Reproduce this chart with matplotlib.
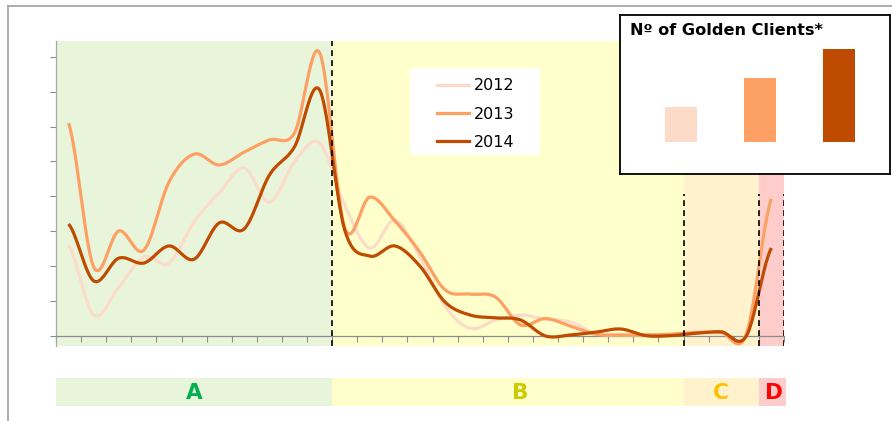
import matplotlib
matplotlib.use("Agg")
import matplotlib.pyplot as plt
import numpy as np
from matplotlib.lines import Line2D
from matplotlib.patches import Rectangle

# series, one value per category slot
years = ["2012", "2013", "2014"]
values_2012 = [2.61, 0.60, 1.40, 2.26, 2.09, 3.27, 4.10, 4.81, 3.84, 4.99, 5.53,
               3.75, 2.52, 3.32, 2.26, 0.85, 0.22, 0.45, 0.60, 0.48, 0.40, 0.07,
               0.03, 0.03, 0.05, 0.12, 0.10, 0.05, 3.85]
values_2013 = [6.10, 1.98, 3.01, 2.46, 4.41, 5.21, 4.90, 5.27, 5.62, 5.82, 8.12,
               3.10, 3.98, 3.30, 2.40, 1.32, 1.20, 1.12, 0.32, 0.50, 0.28, 0.05,
               0.03, 0.03, 0.05, 0.10, 0.10, 0.05, 3.93]
values_2014 = [3.21, 1.58, 2.23, 2.09, 2.58, 2.20, 3.24, 3.07, 4.61, 5.42, 7.05,
               3.04, 2.29, 2.58, 2.00, 0.97, 0.60, 0.52, 0.46, 0.00, 0.03, 0.11,
               0.20, 0.01, 0.01, 0.08, 0.12, 0.00, 2.52]

segment_labels = ["A", "B", "C", "D"]
segment_edges = [0, 11, 25, 28, 29]
golden_clients = [35, 64, 93]

line_colors = ["#FCDCC8", "#FDA064", "#BF4B00"]
segment_fill = ["#E9F5DB", "#FFFFCC", "#FFF2CC", "#FFCCCC"]
segment_text = ["#00B050", "#CCCC00", "#FFC000", "#FF0000"]

W, H = 892, 421


def fig_rect(x0, y0, x1, y1):
    # pixel box (top-left origin) -> figure fraction rect
    return [x0 / W, (H - y1) / H, (x1 - x0) / W, (y1 - y0) / H]


def smooth(y, n=24):
    # Catmull-Rom curve through the points, like a spreadsheet "smoothed line"
    y = np.asarray(y, dtype=float)
    x = np.arange(len(y)) + 0.5
    p = np.concatenate([[y[0]], y, [y[-1]]])
    xs, ys = [], []
    for i in range(len(y) - 1):
        m0 = (p[i + 2] - p[i]) / 2
        m1 = (p[i + 3] - p[i + 1]) / 2
        t = np.linspace(0, 1, n, endpoint=False)
        h00 = 2 * t**3 - 3 * t**2 + 1
        h10 = t**3 - 2 * t**2 + t
        h01 = -2 * t**3 + 3 * t**2
        h11 = t**3 - t**2
        ys.append(h00 * y[i] + h10 * m0 + h01 * y[i + 1] + h11 * m1)
        xs.append(x[i] + t)
    xs.append([x[-1]])
    ys.append([y[-1]])
    return np.concatenate(xs), np.concatenate(ys)


fig = plt.figure(figsize=(W / 100, H / 100), dpi=100)
fig.patch.set_facecolor("white")

# outer frame (top and left edges visible)
fig.add_artist(Line2D([8 / W, 1], [1 - 6 / H, 1 - 6 / H], color="#A6A6A6", lw=1.3))
fig.add_artist(Line2D([8 / W, 8 / W], [0, 1 - 6 / H], color="#A6A6A6", lw=1.3))

n_cat = len(values_2012)
ax = fig.add_axes(fig_rect(56, 41, 784, 346))
ax.set_xlim(0, n_cat)
ax.set_ylim(-0.287, 8.453)

for i, lab in enumerate(segment_labels):
    ax.axvspan(segment_edges[i], segment_edges[i + 1], color=segment_fill[i], lw=0, zorder=0)

for i, vals in enumerate([values_2012, values_2013, values_2014]):
    sx, sy = smooth(vals)
    ax.plot(sx, sy, color=line_colors[i], lw=2.3, solid_capstyle="butt", zorder=3)

# dashed separators
ax.axvline(segment_edges[1], ymin=0, ymax=1, color="black", lw=1.2, ls=(0, (3.5, 2.5)), zorder=4)
for e in segment_edges[2:]:
    ax.axvline(e, ymin=0, ymax=0.50, color="black", lw=1.2, ls=(0, (3.5, 2.5)), zorder=4)

for s in ["top", "right"]:
    ax.spines[s].set_visible(False)
ax.spines["left"].set_color("#A6A6A6")
ax.spines["bottom"].set_color("#8C8C8C")
ax.spines["bottom"].set_position(("data", 0))
ax.spines["left"].set_linewidth(0.9)
ax.spines["bottom"].set_linewidth(0.9)
ax.set_xticks(np.arange(0, n_cat + 1))
ax.set_yticks(np.arange(0, 9))
ax.tick_params(axis="x", direction="out", length=4, width=0.8, color="#8C8C8C", labelbottom=False)
ax.tick_params(axis="y", direction="out", length=4.5, width=0.8, color="#8C8C8C", labelleft=False)

# legend box
fig.add_artist(Rectangle((410 / W, (H - 155) / H), 130 / W, 87 / H,
                         transform=fig.transFigure, facecolor="white", edgecolor="none", zorder=5))
handles = [Line2D([], [], color=c, lw=2.3) for c in line_colors]
leg = fig.legend(handles, years, loc="upper left", bbox_to_anchor=(426 / W, 1 - 67 / H),
                 frameon=False, fontsize=11.5, handlelength=2.0, handletextpad=0.3,
                 labelspacing=0.84, borderpad=0.2)
leg.set_zorder(6)

# inset with golden clients
box = fig.add_axes(fig_rect(620, 15, 890, 174))
box.set_xticks([])
box.set_yticks([])
for s in box.spines.values():
    s.set_color("black")
    s.set_linewidth(1.3)
box.set_zorder(7)
box.text(10 / 270, 1 - 15 / 159, "N\u00ba of Golden Clients*", transform=box.transAxes,
         fontsize=11.6, fontweight="bold", va="center", ha="left")

bars = fig.add_axes(fig_rect(641.5, 49, 878.5, 142))
bars.set_zorder(8)
bars.bar(range(len(golden_clients)), golden_clients, width=0.405, color=line_colors)
bars.set_xlim(-0.5, 2.5)
bars.set_ylim(0, max(golden_clients))
bars.axis("off")

# segment band below the chart
band = fig.add_axes(fig_rect(56, 378, 786, 406))
band.set_xlim(0, n_cat + 0.08)
band.set_ylim(0, 1)
band.axis("off")
label_pos = [5.5, 18.5, 26.5, 28.6]
for i, lab in enumerate(segment_labels):
    right = segment_edges[i + 1] + (0.08 if i == len(segment_labels) - 1 else 0)
    band.axvspan(segment_edges[i], right, color=segment_fill[i], lw=0)
    band.text(label_pos[i], 0.45, lab, color=segment_text[i], fontsize=15.5,
              fontweight="bold", ha="center", va="center")

fig.savefig("out.png", dpi=100)
